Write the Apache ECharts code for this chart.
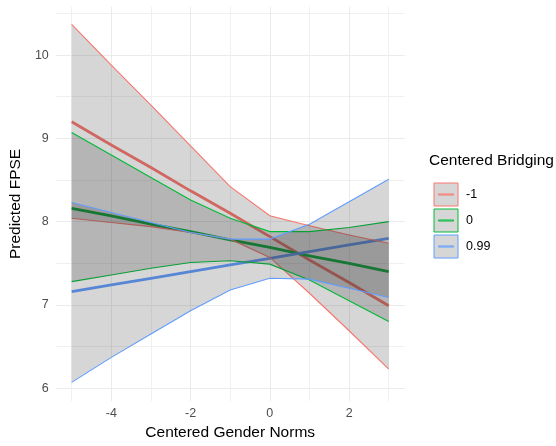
<!DOCTYPE html>
<html>
<head>
<meta charset="utf-8">
<script src="https://cdn.jsdelivr.net/npm/echarts@6/dist/echarts.min.js"></script>
<style>html,body{margin:0;padding:0;background:#fff;}#chart{width:556px;height:446px;}</style>
</head>
<body>
<div id="chart"></div>
<script>
// ---- data ----
const xVals = [-5, -4, -3, -2, -1, 0, 1, 2, 3];
const groupNames = ['-1', '0', '0.99'];
const predRed   = [9.20, 8.92, 8.65, 8.37, 8.10, 7.82, 7.54, 7.27, 6.99];
const lowRed    = [8.04, 7.99, 7.94, 7.87, 7.79, 7.57, 7.14, 6.69, 6.23];
const upRed     = [10.37, 9.88, 9.40, 8.91, 8.42, 8.07, 7.95, 7.84, 7.74];
const predGreen = [8.16, 8.07, 7.97, 7.88, 7.78, 7.69, 7.59, 7.50, 7.40];
const lowGreen  = [7.28, 7.36, 7.44, 7.51, 7.53, 7.49, 7.30, 7.05, 6.80];
const upGreen   = [9.07, 8.80, 8.53, 8.26, 8.04, 7.88, 7.88, 7.93, 8.00];
const predBlue  = [7.16, 7.24, 7.32, 7.40, 7.48, 7.56, 7.64, 7.72, 7.80];
const lowBlue   = [6.07, 6.37, 6.65, 6.93, 7.18, 7.32, 7.31, 7.20, 7.09];
const upBlue    = [8.23, 8.11, 7.99, 7.87, 7.79, 7.79, 7.97, 8.24, 8.51];
const xMajorTicks = [-4, -2, 0, 2];
const xMinorTicks = [-5, -3, -1, 1, 3];
const yMajorTicks = [6, 7, 8, 9, 10];
const yMinorTicks = [6.5, 7.5, 8.5, 9.5, 10.5];

const colors = ['#F8766D', '#00BA38', '#619CFF'];
const preds = [predRed, predGreen, predBlue];
const lows = [lowRed, lowGreen, lowBlue];
const ups = [upRed, upGreen, upBlue];

const X_MIN = -5.4, X_MAX = 3.4, Y_MIN = 5.845, Y_MAX = 10.58;
const FONT = '"Liberation Sans", Arial, sans-serif';

const chart = echarts.init(document.getElementById('chart'), null, {renderer: 'canvas'});

const lineSeries = groupNames.map((g, k) => ({
  type: 'line',
  name: 'pred ' + g,
  data: xVals.map((x, i) => [x, preds[k][i]]),
  showSymbol: false,
  symbol: 'none',
  lineStyle: {color: colors[k], width: 2.8},
  itemStyle: {color: colors[k]},
  silent: true,
  z: 1
}));

const ribbonSeries = groupNames.map((g, k) => ({
  type: 'custom',
  name: g,
  coordinateSystem: 'cartesian2d',
  itemStyle: {color: colors[k]},
  data: xVals.map((x, i) => [x, lows[k][i], ups[k][i]]),
  encode: {x: 0, y: [1, 2]},
  silent: true,
  z: 3 + k,
  renderItem: function (params, api) {
    if (params.dataIndex !== 0) return null;
    const up = xVals.map((x, i) => api.coord([x, ups[k][i]]));
    const lo = xVals.map((x, i) => api.coord([x, lows[k][i]]));
    return {
      type: 'group',
      children: [
        {type: 'polygon', shape: {points: up.concat(lo.slice().reverse())}, style: {fill: 'rgba(51,51,51,0.2)', stroke: null}},
        {type: 'polyline', shape: {points: up}, style: {stroke: colors[k], lineWidth: 1.1, fill: null}},
        {type: 'polyline', shape: {points: lo}, style: {stroke: colors[k], lineWidth: 1.1, fill: null}}
      ]
    };
  }
}));

const option = {
  animation: false,
  backgroundColor: '#fff',
  textStyle: {fontFamily: FONT},
  title: {
    text: 'Centered Bridging',
    left: 429, top: 153, padding: 0,
    textStyle: {fontFamily: FONT, fontSize: 15.5, fontWeight: 'normal', color: '#000'}
  },
  legend: {
    orient: 'vertical',
    left: 428.5, top: 177.5,
    itemWidth: 24, itemHeight: 23, itemGap: 2,
    icon: 'path://M0,0H24V23H0Z M4.5,11H19.5V12H4.5Z',
    data: groupNames.map((g, k) => ({name: g, itemStyle: {color: '#d6d6d6', borderColor: colors[k], borderWidth: 1}})),
    textStyle: {fontFamily: FONT, fontSize: 12.5, color: '#000', padding: [0, 0, 0, 3]},
    selectedMode: false
  },
  grid: {left: 50.4, right: 151.4, top: 6.8, bottom: 44.8, containLabel: false},
  xAxis: [
    {
      type: 'value', min: X_MIN, max: X_MAX,
      name: 'Centered Gender Norms', nameLocation: 'middle', nameGap: 23,
      nameTextStyle: {fontFamily: FONT, fontSize: 15.5, color: '#000'},
      axisLine: {show: false},
      axisTick: {show: false, customValues: xMajorTicks},
      axisLabel: {customValues: xMajorTicks, color: '#4d4d4d', fontSize: 12.5, fontFamily: FONT, margin: 6},
      splitLine: {show: true, lineStyle: {color: '#ebebeb', width: 1}}
    },
    {
      type: 'value', min: X_MIN, max: X_MAX, position: 'bottom',
      axisLine: {show: false},
      axisTick: {show: false, customValues: xMinorTicks},
      axisLabel: {show: false, customValues: xMinorTicks},
      splitLine: {show: true, lineStyle: {color: '#f0f0f0', width: 1}}
    }
  ],
  yAxis: [
    {
      type: 'value', min: Y_MIN, max: Y_MAX,
      name: 'Predicted FPSE', nameLocation: 'middle', nameGap: 27,
      nameTextStyle: {fontFamily: FONT, fontSize: 15.5, color: '#000'},
      axisLine: {show: false},
      axisTick: {show: false, customValues: yMajorTicks},
      axisLabel: {customValues: yMajorTicks, color: '#4d4d4d', fontSize: 12.5, fontFamily: FONT, margin: 7},
      splitLine: {show: true, lineStyle: {color: '#ebebeb', width: 1}}
    },
    {
      type: 'value', min: Y_MIN, max: Y_MAX, position: 'left',
      axisLine: {show: false},
      axisTick: {show: false, customValues: yMinorTicks},
      axisLabel: {show: false, customValues: yMinorTicks},
      splitLine: {show: true, lineStyle: {color: '#f0f0f0', width: 1}}
    }
  ],
  series: lineSeries.concat(ribbonSeries)
};

chart.setOption(option);
</script>
</body>
</html>
